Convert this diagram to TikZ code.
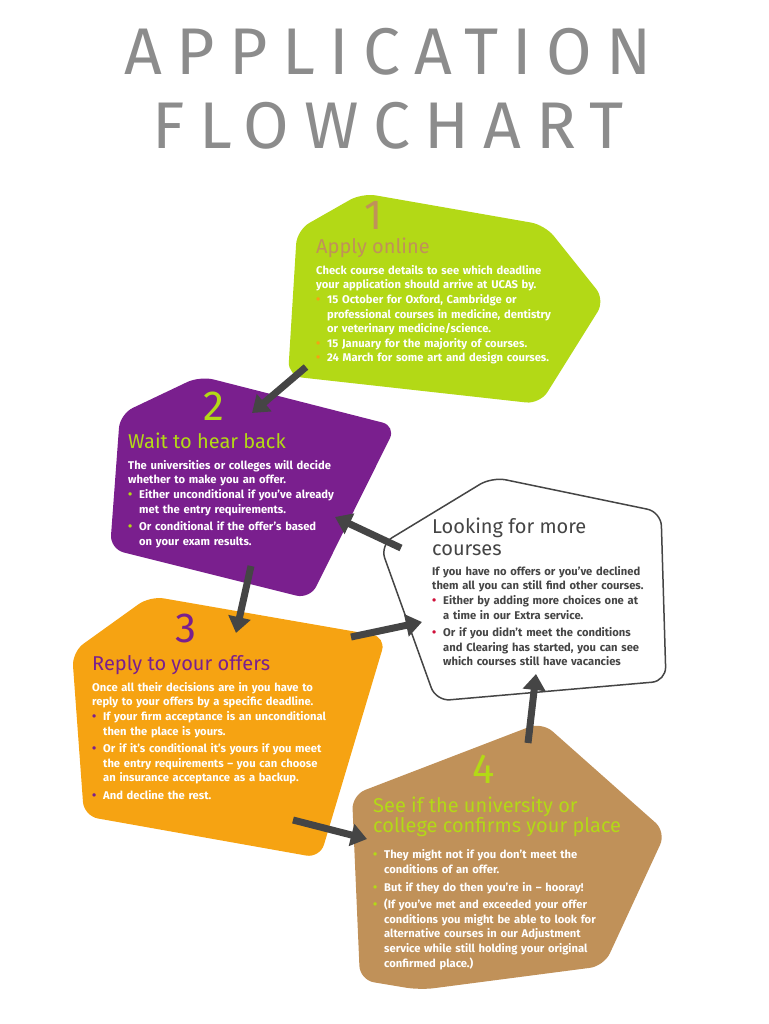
\documentclass[tikz,border=0pt]{standalone}
\usepackage{fontspec}
\setmainfont{Fira Sans}
\usetikzlibrary{arrows.meta}
\definecolor{cgreen}{HTML}{B3D916}
\definecolor{cpurple}{HTML}{7A1F8E}
\definecolor{corange}{HTML}{F6A312}
\definecolor{ctan}{HTML}{C09159}
\definecolor{cgray}{HTML}{8C8C8C}
\definecolor{cdark}{HTML}{454545}
\definecolor{cred}{HTML}{D0103A}
\newcommand{\bul}[2]{\par\hangindent=11pt\hangafter=1\noindent\makebox[11pt][l]{\textcolor{#1}{\large\textbullet}}#2\par}
\tikzset{
 blob/.style={rounded corners=14pt},
 body/.style={anchor=north west,inner sep=0pt,align=left,text width=#1,font=\fontsize{11.2}{14.6}\selectfont\bfseries},
 ttl/.style={anchor=north west,inner sep=0pt,align=left,font=\fontsize{20}{22}\selectfont},
 num/.style={inner sep=0pt,font=\fontsize{42}{42}\selectfont},
 arr/.style={draw=cdark,line width=7pt,-{Triangle[length=16pt,width=22pt]},shorten >=0pt}
}
\begin{document}
\begin{tikzpicture}[x=1pt,y=-1pt]
\useasboundingbox (0,0) rectangle (768,1024);
\node[inner sep=0pt,text=cgray,font=\fontsize{66}{66}\selectfont\addfontfeature{LetterSpace=22}] (t1) at (388,52) {APPLICATION};
\node[inner sep=0pt,text=cgray,font=\fontsize{66}{66}\selectfont\addfontfeature{LetterSpace=22}] (t2) at (388,126) {FLOWCHART};
% shapes
\fill[cgreen,blob] (362,193) -- (545,225) -- (605,300) -- (540,404) -- (288,376) -- (297,230) -- cycle;
\fill[cpurple,blob] (200,376) -- (396,426) -- (310,599) -- (110,549) -- (120,414) -- cycle;
\fill[corange,blob] (150,596) -- (386,637) -- (320,858) -- (84,816) -- (72,652) -- cycle;
\fill[ctan,blob] (542,722) -- (666,832) -- (604,966) -- (420,990) -- (360,980) -- (352,795) -- cycle;
\draw[cdark,line width=1.5pt,fill=white,blob] (492,477) -- (661,512) -- (666,681) -- (436,701) -- (380,545) -- cycle;
% texts box 1
\node[num,text=ctan] (n1) at (374,215) {1};
\node[ttl,text=ctan] (h1) at (316,238) {Apply online};
\node[body=300pt,text=white] (b1) at (316,265) {Check course details to see which deadline\\your application should arrive at UCAS by.
\bul{corange}{15 October for Oxford, Cambridge or\newline professional courses in medicine, dentistry\newline or veterinary medicine/science.}
\bul{corange}{15 January for the majority of courses.}
\bul{corange}{24 March for some art and design courses.}};
% box 2
\node[num,text=cgreen] (n2) at (214,406) {2};
\node[ttl,text=cgreen] (h2) at (128,433) {Wait to hear back};
\node[body=300pt,text=white] (b2) at (128,460) {The universities or colleges will decide\\whether to make you an offer.
\bul{cgreen}{Either unconditional if you've already\newline met the entry requirements.}\vspace{3pt}
\bul{cgreen}{Or conditional if the offer's based\newline on your exam results.}};
% box 3
\node[num,text=cpurple] (n3) at (186,628) {3};
\node[ttl,text=cpurple] (h3) at (92,655) {Reply to your offers};
\node[body=300pt,text=white] (b3) at (92,682) {Once all their decisions are in you have to\\reply to your offers by a specific deadline.
\bul{cpurple}{If your firm acceptance is an unconditional\newline then the place is yours.}\vspace{3pt}
\bul{cpurple}{Or if it's conditional it's yours if you meet\newline the entry requirements -- you can choose\newline an insurance acceptance as a backup.}\vspace{3pt}
\bul{cpurple}{And decline the rest.}};
% box 4
\node[num,text=cgreen] (n4) at (484,769) {4};
\node[ttl,text=cgreen,font=\fontsize{20}{20}\selectfont] (h4) at (373,797) {See if the university or\\college confirms your place};
\node[body=300pt,text=white] (b4) at (373,844) {\bul{cgreen}{They might not if you don't meet the\newline conditions of an offer.}\vspace{3pt}
\bul{cgreen}{But if they do then you're in -- hooray!}\vspace{3pt}
\bul{cgreen}{(If you've met and exceeded your offer\newline conditions you might be able to look for\newline alternative courses in our Adjustment\newline service while still holding your original\newline confirmed place.)}};
% white box
\node[ttl,text=cdark,font=\fontsize{20}{22}\selectfont] (h5) at (432,518) {Looking for more\\courses};
\node[body=300pt,text=cdark] (b5) at (432,566) {If you have no offers or you've declined\\them all you can still find other courses.
\bul{cred}{Either by adding more choices one at\newline a time in our Extra service.}\vspace{3pt}
\bul{cred}{Or if you didn't meet the conditions\newline and Clearing has started, you can see\newline which courses still have vacancies}};
% arrows
\coordinate (a1s) at (306,367); \coordinate (a1e) at (252,413);
\coordinate (a2s) at (251,566); \coordinate (a2e) at (236,633);
\coordinate (a3s) at (401,548); \coordinate (a3e) at (335,517);
\coordinate (a4s) at (351,637); \coordinate (a4e) at (422,622);
\coordinate (a5s) at (528,743); \coordinate (a5e) at (536,674);
\coordinate (a6s) at (293,820); \coordinate (a6e) at (367,839);
\foreach \s/\e in {a1s/a1e,a2s/a2e,a3s/a3e,a4s/a4e,a5s/a5e,a6s/a6e} \draw[arr] (\s) -- (\e);
\end{tikzpicture}
\end{document}
